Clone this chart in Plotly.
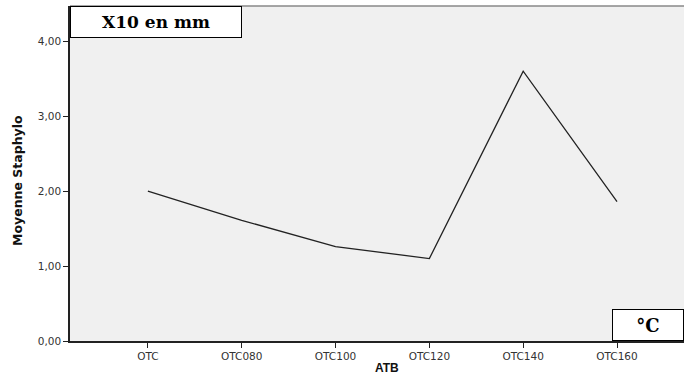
import plotly.graph_objects as go

categories = ["OTC", "OTC080", "OTC100", "OTC120", "OTC140", "OTC160"]
moyenne = [2.00, 1.61, 1.26, 1.10, 3.60, 1.86]
y_ticks = [0, 1, 2, 3, 4]
y_tick_labels = ["0,00", "1,00", "2,00", "3,00", "4,00"]

fig = go.Figure()
fig.add_trace(go.Scatter(
    x=list(range(len(categories))), y=moyenne, mode="lines",
    line=dict(color="#222222", width=1.3), showlegend=False, hoverinfo="skip"))

fig.update_layout(
    width=684, height=376,
    margin=dict(l=70, r=0, t=6, b=35),
    paper_bgcolor="white", plot_bgcolor="#f0f0f0",
    font=dict(family="DejaVu Sans", size=10, color="#333333"),
    xaxis=dict(
        range=[-0.83, 5.714], tickmode="array",
        tickvals=list(range(len(categories))), ticktext=categories,
        showgrid=False, zeroline=False, showline=True, linecolor="#222222", linewidth=1.5,
        ticks="outside", ticklen=5, tickcolor="#222222",
        tickfont=dict(size=10.5),
    ),
    yaxis=dict(
        range=[0, 4.47], tickmode="array", tickvals=y_ticks, ticktext=y_tick_labels,
        showgrid=False, zeroline=False, showline=True, linecolor="#222222", linewidth=1.5,
        ticks="outside", ticklen=5, tickcolor="#222222",
        tickfont=dict(size=10.5),
    ),
    shapes=[
        dict(type="line", xref="paper", yref="paper", x0=0, x1=1, y0=1, y1=1,
             line=dict(color="#888888", width=1.5)),
    ],
    annotations=[
        dict(xref="paper", yref="paper", x=0.516, y=-0.0806, xanchor="center", yanchor="middle",
             text="<b>ATB</b>", showarrow=False,
             font=dict(family="Arial, Liberation Sans", size=12, color="#111111")),
        dict(xref="paper", yref="paper", x=-0.0863, y=0.4776, xanchor="center", yanchor="middle",
             text="<b>Moyenne Staphylo</b>", showarrow=False, textangle=-90,
             font=dict(family="DejaVu Sans", size=12.5, color="#111111")),
        dict(xref="paper", yref="paper", x=0, y=1, xanchor="left", yanchor="top",
             text="<b>X10 en mm</b>", showarrow=False,
             font=dict(family="DejaVu Serif", size=17, color="#000000"),
             bgcolor="white", bordercolor="#000000", borderwidth=1,
             width=168, height=28, align="center"),
        dict(xref="paper", yref="paper", x=1, y=0, xanchor="right", yanchor="bottom",
             text="<b>°C</b>", showarrow=False,
             font=dict(family="DejaVu Serif", size=18, color="#000000"),
             bgcolor="white", bordercolor="#000000", borderwidth=1,
             width=68, height=28, align="center"),
    ],
)

fig.write_html("out.html")
